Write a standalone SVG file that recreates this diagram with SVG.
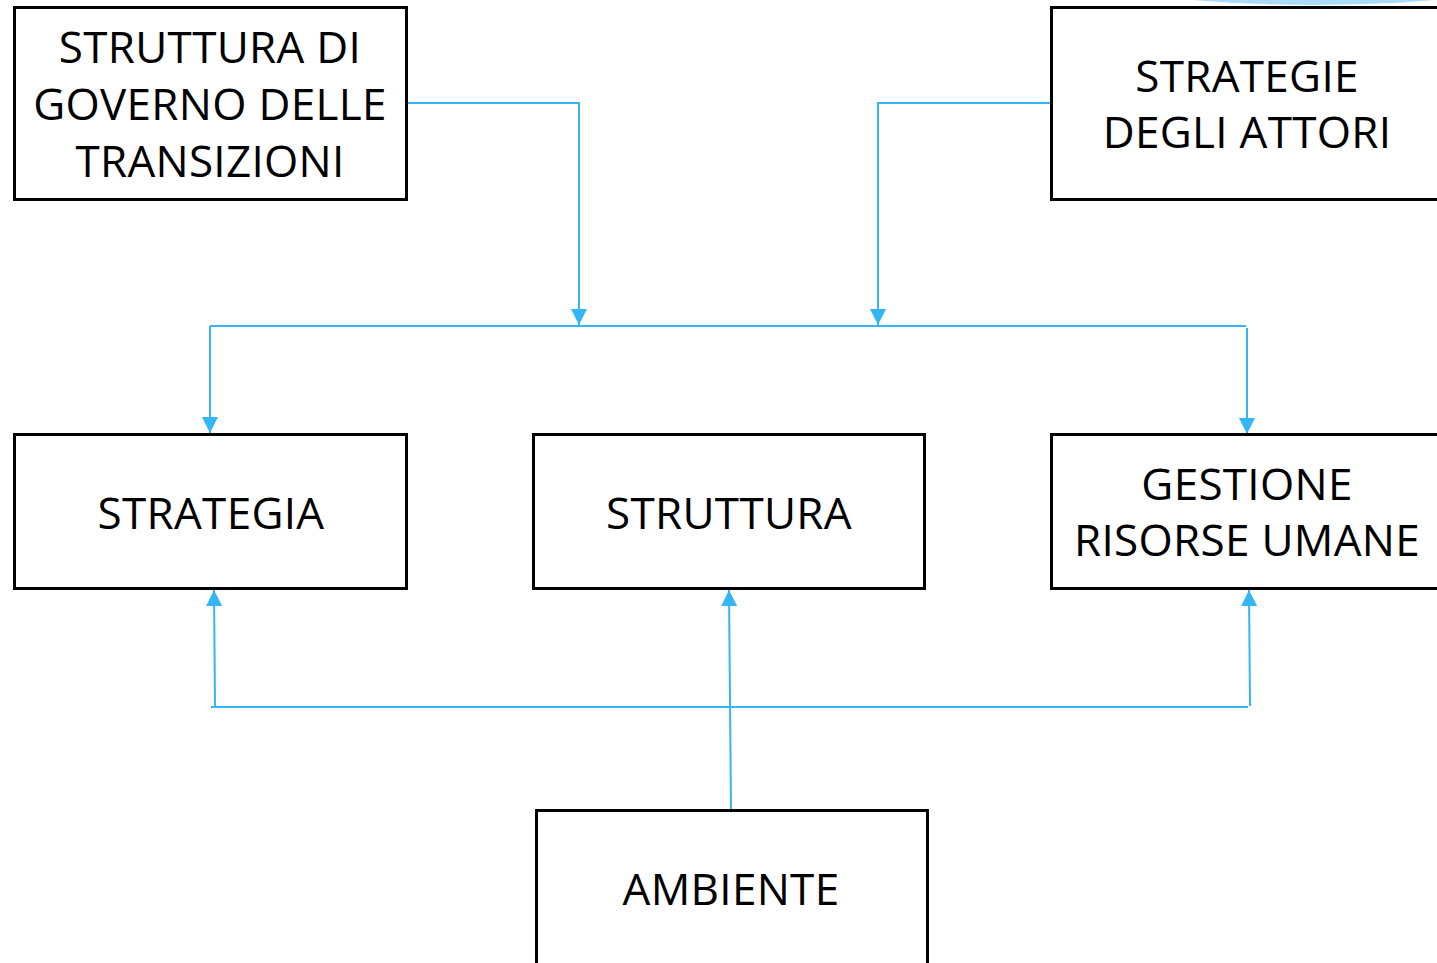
<svg xmlns="http://www.w3.org/2000/svg" width="1437" height="963" viewBox="0 0 1437 963">
<style>
.box{fill:#ffffff;stroke:#000000;stroke-width:3}
.lbl{font-family:"Open Sans","Liberation Sans",sans-serif;font-size:44px;letter-spacing:0.3px;fill:#000000;text-anchor:middle}
.con{fill:none;stroke:#33b5f6;stroke-width:2}
</style>
<defs>
<marker id="arr" viewBox="0 0 16 16" refX="16" refY="8" markerWidth="16" markerHeight="16" markerUnits="userSpaceOnUse" orient="auto">
<path d="M0,0 L16,8 L0,16 Z" fill="#33b5f6"/>
</marker>
</defs>
<ellipse cx="1314" cy="-55" rx="300" ry="60" fill="#aadcf9"/>
<g id="connectors">
<path class="con" d="M406,103 H579 V325" marker-end="url(#arr)"/>
<path class="con" d="M1051,103 H878 V325" marker-end="url(#arr)"/>
<path class="con" d="M210,326 H1246"/>
<path class="con" d="M210,326 V433" marker-end="url(#arr)"/>
<path class="con" d="M1247,328 V434" marker-end="url(#arr)"/>
<path class="con" d="M211,707 H1248"/>
<path class="con" d="M215,707 L214,590" marker-end="url(#arr)"/>
<path class="con" d="M1250,706 L1249,590" marker-end="url(#arr)"/>
<path class="con" d="M731,810 L729,590" marker-end="url(#arr)"/>
</g>
<g id="governo">
<rect class="box" x="14.5" y="7.5" width="392" height="192"/>
<text class="lbl" x="210" y="63">STRUTTURA DI</text>
<text class="lbl" x="210" y="120">GOVERNO DELLE</text>
<text class="lbl" x="210" y="177">TRANSIZIONI</text>
</g>
<g id="attori">
<rect class="box" x="1051.5" y="7.5" width="392" height="192"/>
<text class="lbl" x="1247" y="92">STRATEGIE</text>
<text class="lbl" x="1247" y="148">DEGLI ATTORI</text>
</g>
<g id="strategia">
<rect class="box" x="14.5" y="434.5" width="392" height="154"/>
<text class="lbl" x="211" y="529">STRATEGIA</text>
</g>
<g id="struttura">
<rect class="box" x="533.5" y="434.5" width="391" height="154"/>
<text class="lbl" x="729" y="529">STRUTTURA</text>
</g>
<g id="gestione">
<rect class="box" x="1051.5" y="434.5" width="392" height="154"/>
<text class="lbl" x="1247" y="500">GESTIONE</text>
<text class="lbl" x="1247" y="556">RISORSE UMANE</text>
</g>
<g id="ambiente">
<rect class="box" x="536.5" y="810.5" width="391" height="170"/>
<text class="lbl" x="731" y="905">AMBIENTE</text>
</g>
</svg>
